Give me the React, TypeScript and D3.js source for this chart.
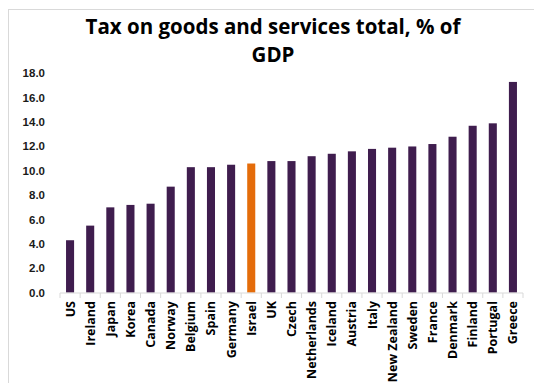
import React from "react";
import * as d3 from "d3";

const countries = ["US","Ireland","Japan","Korea","Canada","Norway","Belgium","Spain","Germany","Israel","UK","Czech","Netherlands","Iceland","Austria","Italy","New Zealand","Sweden","France","Denmark","Finland","Portugal","Greece"];
const values = [4.3,5.5,7.0,7.2,7.3,8.7,10.3,10.3,10.5,10.6,10.8,10.8,11.2,11.4,11.6,11.8,11.9,12.0,12.2,12.8,13.7,13.9,17.3];
const highlight = "Israel";
const yTicks = [0,2,4,6,8,10,12,14,16,18];
const titleLines = ["Tax on goods and services total, % of","GDP"];

export default function App() {
  const W = 534, H = 383;
  const x = d3.scaleBand<string>().domain(countries).range([60, 523]).paddingInner(0.6).paddingOuter(0.3);
  const y = d3.scaleLinear().domain([0, 18]).range([292.6, 73.4]);
  const step = x.step();
  const x0 = 60;
  return (
    <svg width={W} height={H} style={{ position: "absolute", left: 0, top: 0 }}>
      <rect x={0} y={0} width={W} height={H} fill="#fff" />
      <rect x={8.5} y={9.5} width={W} height={H} fill="#fff" stroke="#d9d9d9" strokeWidth={1} />
      {titleLines.map((t, i) => (
        <text key={i} x={273} y={34 + i * 28} textAnchor="middle" fontFamily="'Open Sans', sans-serif" fontWeight="bold" fontSize={20.5} fill="#000">{t}</text>
      ))}
      {yTicks.map((t) => (
        <text key={t} x={45} y={y(t)} dy="0.35em" textAnchor="end" fontFamily="'Liberation Sans', Arial, sans-serif" fontWeight="bold" fontSize={11.5} fill="#1a1a1a">{t.toFixed(1)}</text>
      ))}
      {countries.map((c, i) => (
        <rect key={c} x={x(c)} y={y(values[i])} width={x.bandwidth()} height={y(0) - y(values[i])} fill={c === highlight ? "#e46c0a" : "#3f1d4e"} />
      ))}
      <line x1={x0} x2={523} y1={293} y2={293} stroke="#d9d9d9" strokeWidth={1} />
      {d3.range(countries.length + 1).map((i) => (
        <line key={i} x1={x0 + i * step} x2={x0 + i * step} y1={293} y2={298} stroke="#d9d9d9" strokeWidth={1} />
      ))}
      {countries.map((c) => {
        const cx = (x(c) as number) + x.bandwidth() / 2;
        return (
          <text key={c} transform={`translate(${cx + 4.5},301) rotate(-90)`} textAnchor="end" fontFamily="'Open Sans', sans-serif" fontWeight="bold" fontSize={12.5} fill="#000">{c}</text>
        );
      })}
    </svg>
  );
}
